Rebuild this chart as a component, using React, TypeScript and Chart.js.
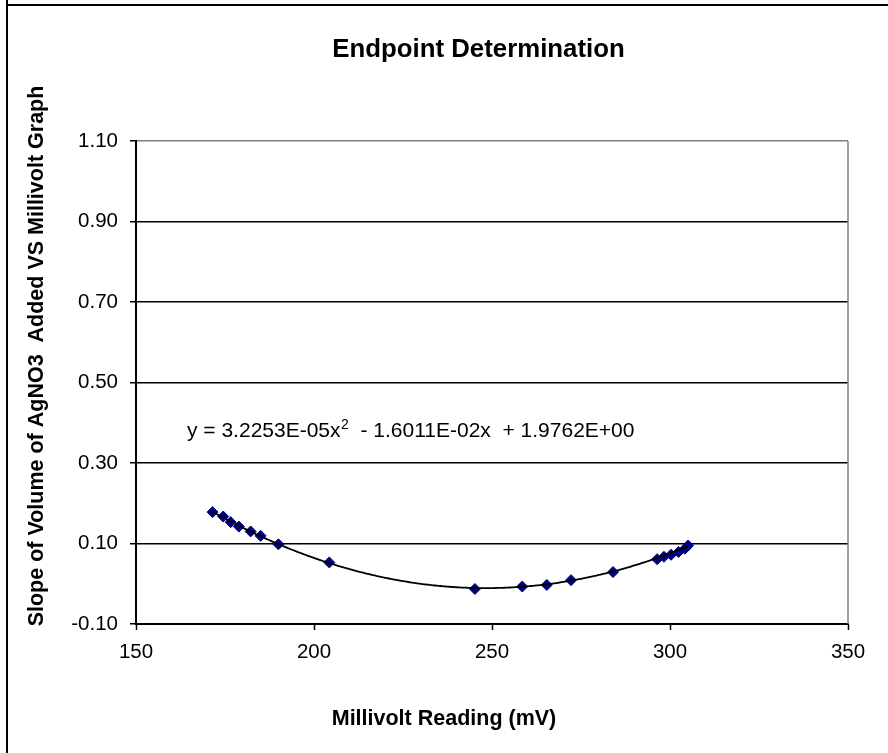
import { useEffect, useRef } from "react";
import { Chart, registerables } from "chart.js";

Chart.register(...registerables);

// Measured millivolt readings and the slope of the titrant volume at each reading
const mvReadings = [
  171.5, 174.5, 176.6, 178.9, 182.2, 185.0, 190.0, 204.3, 245.2, 258.5, 265.4,
  272.2, 284.0, 296.4, 298.3, 300.3, 302.4, 304.2, 305.1,
];
const slopeValues = [
  0.178, 0.167, 0.153, 0.142, 0.13, 0.119, 0.098, 0.053, -0.013, -0.007, -0.003,
  0.009, 0.029, 0.061, 0.067, 0.072, 0.079, 0.087, 0.095,
];

// Axis ticks
const xTickValues = [150, 200, 250, 300, 350];
const yTickValues = [-0.1, 0.1, 0.3, 0.5, 0.7, 0.9, 1.1];

// Second-order polynomial trendline: a·x² + b·x + c
const trendCoefficients = [3.2253e-5, -1.6011e-2, 1.9762];

const chartTitle = "Endpoint Determination";
const xAxisTitle = "Millivolt Reading (mV)";
const yAxisTitle = "Slope of Volume of AgNO3  Added VS Millivolt Graph";

const FONT = "Arial, 'Liberation Sans', sans-serif";

function sciText(v: number): string {
  const [mant, exp] = Math.abs(v).toExponential(4).split("e");
  const n = parseInt(exp, 10);
  return `${mant}E${n < 0 ? "-" : "+"}${String(Math.abs(n)).padStart(2, "0")}`;
}

function signed(v: number): string {
  return `${v < 0 ? "-" : "+"} ${sciText(v)}`;
}

const [coefA, coefB, coefC] = trendCoefficients;
const equationHead = `y = ${sciText(coefA)}x`;
const equationTail = `  ${signed(coefB)}x  ${signed(coefC)}`;

function trendPoints() {
  const lo = Math.min(...mvReadings);
  const hi = Math.max(...mvReadings);
  const pts: { x: number; y: number }[] = [];
  for (let x = lo; x <= hi + 1e-9; x += 0.5) {
    pts.push({ x, y: coefA * x * x + coefB * x + coefC });
  }
  return pts;
}

const decorations = {
  id: "decorations",
  beforeDraw(chart: Chart) {
    const { ctx, width, height } = chart;
    ctx.save();
    ctx.fillStyle = "#ffffff";
    ctx.fillRect(0, 0, width, height);
    // chart frame
    ctx.strokeStyle = "#000000";
    ctx.lineWidth = 2;
    ctx.beginPath();
    ctx.moveTo(7, 0);
    ctx.lineTo(7, height);
    ctx.moveTo(6, 5);
    ctx.lineTo(width, 5);
    ctx.stroke();
    ctx.restore();
  },
  beforeDatasetsDraw(chart: Chart) {
    const { ctx, chartArea } = chart;
    ctx.save();
    // plot-area border on the right
    ctx.strokeStyle = "#808080";
    ctx.lineWidth = 1.5;
    ctx.beginPath();
    ctx.moveTo(chartArea.right, chartArea.top);
    ctx.lineTo(chartArea.right, chartArea.bottom);
    ctx.stroke();
    ctx.restore();
  },
  afterDraw(chart: Chart) {
    const { ctx } = chart;
    ctx.save();
    ctx.fillStyle = "#000000";
    ctx.textBaseline = "alphabetic";

    // title
    ctx.font = `bold 25.8px ${FONT}`;
    ctx.textAlign = "center";
    ctx.fillText(chartTitle, 478.5, 56.5);

    // x-axis title
    ctx.font = `bold 21.5px ${FONT}`;
    ctx.fillText(xAxisTitle, 444, 725);

    // y-axis title
    ctx.save();
    ctx.translate(43, 356);
    ctx.rotate(-Math.PI / 2);
    ctx.fillText(yAxisTitle, 0, 0);
    ctx.restore();

    // trendline equation
    ctx.textAlign = "left";
    const ex = 187;
    const ey = 437;
    ctx.font = `21px ${FONT}`;
    ctx.fillText(equationHead, ex, ey);
    const w1 = ctx.measureText(equationHead).width;
    ctx.font = `14px ${FONT}`;
    ctx.fillText("2", ex + w1 + 0.5, ey - 8);
    const w2 = ctx.measureText("2").width;
    ctx.font = `21px ${FONT}`;
    ctx.fillText(equationTail, ex + w1 + w2 + 0.5, ey);

    ctx.restore();
  },
};

export default function App() {
  const canvasRef = useRef<HTMLCanvasElement | null>(null);

  useEffect(() => {
    const canvas = canvasRef.current;
    if (!canvas) return;

    const chart = new Chart(canvas, {
      type: "scatter",
      data: {
        datasets: [
          {
            label: "Poly. trend",
            data: trendPoints(),
            showLine: true,
            borderColor: "#000000",
            borderWidth: 1.8,
            pointRadius: 0,
            fill: false,
            tension: 0,
          },
          {
            label: "Slope",
            data: mvReadings.map((x, i) => ({ x, y: slopeValues[i] })),
            showLine: false,
            pointStyle: "rectRot",
            pointRadius: 5.5,
            pointBorderWidth: 1,
            backgroundColor: "#000080",
            borderColor: "#000080",
          },
        ],
      },
      plugins: [decorations],
      options: {
        animation: false,
        responsive: false,
        devicePixelRatio: 1,
        layout: { padding: { top: 141, right: 40, left: 0, bottom: 0 } },
        plugins: {
          legend: { display: false },
          title: { display: false },
          tooltip: { enabled: false },
        },
        scales: {
          x: {
            type: "linear",
            min: 150,
            max: 350,
            afterBuildTicks: (scale: any) => {
              scale.ticks = xTickValues.map((value) => ({ value }));
            },
            afterFit: (scale: any) => {
              scale.height = 129;
            },
            ticks: {
              color: "#000000",
              font: { family: FONT, size: 20.5 },
              padding: 10,
              maxRotation: 0,
              callback: (v: any) => String(v),
            },
            grid: {
              display: true,
              drawOnChartArea: false,
              tickLength: 6,
              tickColor: "#000000",
              tickWidth: 1.5,
            },
            border: { color: "#000000", width: 2 },
          },
          y: {
            type: "linear",
            min: -0.1,
            max: 1.1,
            afterBuildTicks: (scale: any) => {
              scale.ticks = yTickValues.map((value) => ({ value }));
            },
            afterFit: (scale: any) => {
              scale.width = 136;
            },
            ticks: {
              color: "#000000",
              font: { family: FONT, size: 20.5 },
              padding: 12,
              callback: (v: any) => Number(v).toFixed(2),
            },
            grid: {
              display: true,
              drawOnChartArea: true,
              tickLength: 6,
              lineWidth: 1.5,
              tickWidth: 1.5,
              tickColor: "#000000",
              color: (ctx: any) =>
                ctx.tick && Math.abs(ctx.tick.value - 1.1) < 1e-6 ? "#808080" : "#000000",
            },
            border: { color: "#000000", width: 2 },
          },
        },
      },
    });

    return () => chart.destroy();
  }, []);

  return (
    <div style={{ position: "absolute", left: 0, top: 0, width: 888, height: 753 }}>
      <canvas ref={canvasRef} width={888} height={753} style={{ display: "block" }} />
    </div>
  );
}
